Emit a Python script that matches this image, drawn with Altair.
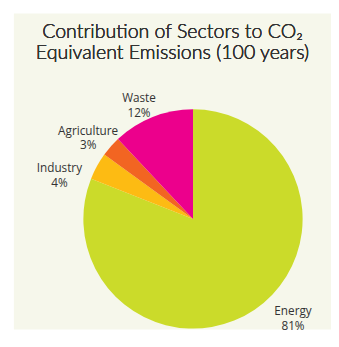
import altair as alt
import pandas as pd

sectors = ["Energy", "Industry", "Agriculture", "Waste"]
values = [81, 4, 3, 12]
colors = ["#CBDB2A", "#FDBB13", "#F26522", "#EC008C"]

title_lines = ["Contribution of Sectors to CO\u2082", "Equivalent Emissions (100 years)"]

# label placement (layout only): radius in px, angular nudge in radians
label_radius = {"Energy": 139, "Industry": 146, "Agriculture": 140, "Waste": 135}
label_nudge = {"Energy": -0.229, "Industry": -0.14, "Agriculture": -0.023, "Waste": -0.044}

df = pd.DataFrame({
    "sector": sectors,
    "value": values,
    "order": list(range(len(sectors))),
})
df["label"] = [f"{s}\n{v}%" for s, v in zip(sectors, values)]
total = float(sum(values))

W, H = 324, 323
CX, CY = 183, 210
TITLE_FONT = "Lato"
LABEL_FONT = "Open Sans"
TXT = "#333333"

theta_scale = alt.Scale(domain=[0, total])

pie = alt.Chart(df).mark_arc(outerRadius=112, stroke=None).encode(
    theta=alt.Theta("value:Q", stack=True, scale=theta_scale),
    color=alt.Color("sector:N", scale=alt.Scale(domain=sectors, range=colors), legend=None),
    order=alt.Order("order:Q"),
    x=alt.value(CX),
    y=alt.value(CY),
)

layers = [pie]
for s in sectors:
    lab = (
        alt.Chart(df)
        .transform_window(cum="sum(value)", sort=[alt.SortField("order")], frame=[None, 0])
        .transform_calculate(mid="datum.cum - datum.value / 2")
        .transform_filter(alt.datum.sector == s)
        .mark_text(
            radius=label_radius[s], thetaOffset=label_nudge[s], lineBreak="\n",
            fontSize=12, font=LABEL_FONT, fontWeight="normal", color=TXT, align="center",
            baseline="middle", lineHeight=15,
        )
        .encode(
            theta=alt.Theta("mid:Q", scale=theta_scale),
            text="label:N",
            x=alt.value(CX),
            y=alt.value(CY),
        )
    )
    layers.append(lab)

for i, t in enumerate(title_lines):
    layers.append(
        alt.Chart(df).mark_text(
            text=t, fontSize=20, font=TITLE_FONT, fontWeight=300, color=TXT,
            align="center", baseline="alphabetic"
        ).encode(x=alt.value(W / 2), y=alt.value(25 + 22 * i))
    )

chart = alt.layer(*layers).properties(
    width=W, height=H,
    padding={"left": 6, "top": 2, "right": 0, "bottom": 0},
    background="white",
).configure_view(fill="#F6F7EB", stroke=None)

chart.save("out.html", embed_options={"renderer": "svg", "actions": False})
